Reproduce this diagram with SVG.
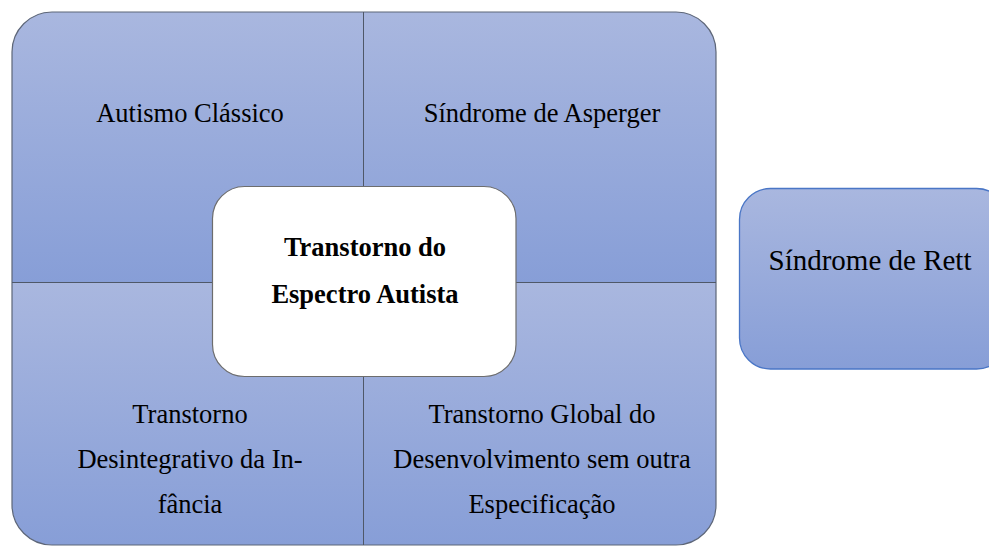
<svg xmlns="http://www.w3.org/2000/svg" width="989" height="546" viewBox="0 0 989 546">
<defs>
<linearGradient id="g" x1="0" y1="0" x2="0" y2="1">
<stop offset="0" stop-color="#a9b7df"/>
<stop offset="1" stop-color="#879ed7"/>
</linearGradient>
<clipPath id="mainclip"><rect x="12" y="12" width="704" height="533" rx="40" ry="40"/></clipPath>
<style>
.t{font-family:"Liberation Serif","Times New Roman",serif;font-size:26.5px;fill:#000;text-anchor:middle}
.b{font-weight:bold}
.big{font-size:29px}
.q{fill:url(#g)}
.div{stroke:#4f5868;stroke-width:1;fill:none}
</style>
</defs>
<g id="spectrum">
<g clip-path="url(#mainclip)">
<rect id="q1" class="q" x="12" y="12" width="351.5" height="270.5"/>
<rect id="q2" class="q" x="363.5" y="12" width="352.5" height="270.5"/>
<rect id="q3" class="q" x="12" y="282.5" width="351.5" height="262.5"/>
<rect id="q4" class="q" x="363.5" y="282.5" width="352.5" height="262.5"/>
</g>
<rect x="12" y="12" width="704" height="533" rx="40" ry="40" fill="none" stroke="#5d6678" stroke-width="1.2"/>
</g>
<g id="connectors">
<line class="div" x1="363.5" y1="12" x2="363.5" y2="545"/>
<line class="div" x1="12" y1="282.5" x2="716" y2="282.5"/>
</g>
<g id="autismo-classico"><text class="t" x="190" y="122">Autismo Clássico</text></g>
<g id="sindrome-asperger"><text class="t" x="542" y="122">Síndrome de Asperger</text></g>
<g id="transtorno-desintegrativo">
<text class="t" x="190" y="423">Transtorno</text>
<text class="t" x="190" y="468">Desintegrativo da In-</text>
<text class="t" x="190" y="513">fância</text>
</g>
<g id="tgd-soe">
<text class="t" x="542" y="423">Transtorno Global do</text>
<text class="t" x="542" y="468">Desenvolvimento sem outra</text>
<text class="t" x="542" y="513">Especificação</text>
</g>
<g id="tea">
<rect x="212.5" y="186.5" width="303.5" height="190" rx="32" ry="32" fill="#ffffff" stroke="#6d6d6d" stroke-width="1.2"/>
<text class="t b" x="365" y="256">Transtorno do</text>
<text class="t b" x="365" y="302.5">Espectro Autista</text>
</g>
<g id="sindrome-rett">
<rect x="739.5" y="188.5" width="268" height="180.5" rx="31" ry="31" fill="url(#g)" stroke="#4a76c6" stroke-width="1.3"/>
<text class="t big" x="870" y="270">Síndrome de Rett</text>
</g>
</svg>
